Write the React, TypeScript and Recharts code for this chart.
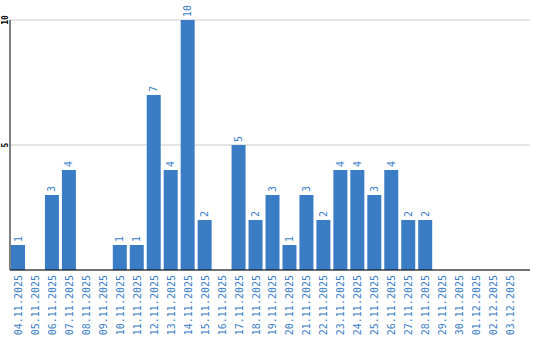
import { BarChart, Bar, XAxis, YAxis, CartesianGrid, LabelList } from 'recharts';

const days = [
  '04.11.2025', '05.11.2025', '06.11.2025', '07.11.2025', '08.11.2025', '09.11.2025',
  '10.11.2025', '11.11.2025', '12.11.2025', '13.11.2025', '14.11.2025', '15.11.2025',
  '16.11.2025', '17.11.2025', '18.11.2025', '19.11.2025', '20.11.2025', '21.11.2025',
  '22.11.2025', '23.11.2025', '24.11.2025', '25.11.2025', '26.11.2025', '27.11.2025',
  '28.11.2025', '29.11.2025', '30.11.2025', '01.12.2025', '02.12.2025', '03.12.2025',
];
const counts = [1, 0, 3, 4, 0, 0, 1, 1, 7, 4, 10, 2, 0, 5, 2, 3, 1, 3, 2, 4, 4, 3, 4, 2, 2, 0, 0, 0, 0, 0];
const yTicks = [0, 5, 10];

const data = days.map((day, i) => ({ day, count: counts[i] }));

const BLUE = '#3b7dc5';
const MONO = '"DejaVu Sans Mono", monospace';

const DayTick = (props: any) => {
  const { x, y, payload } = props;
  return (
    <text
      x={x}
      y={y}
      transform={`rotate(-90, ${x}, ${y})`}
      textAnchor="end"
      dominantBaseline="central"
      fill={BLUE}
      fontSize={10}
      fontFamily={MONO}
    >
      {payload.value}
    </text>
  );
};

const CountTick = (props: any) => {
  const { x, y, payload } = props;
  if (!payload.value) return null;
  return (
    <text
      x={x}
      y={y}
      transform={`rotate(-90, ${x}, ${y})`}
      textAnchor="middle"
      dominantBaseline="central"
      fill="#000"
      fontSize={8}
      fontWeight="bold"
      fontFamily={MONO}
    >
      {payload.value}
    </text>
  );
};

const ValueLabel = (props: any) => {
  const { x, y, width, value } = props;
  if (!value) return null;
  const cx = x + width / 2;
  const cy = y - 3;
  return (
    <text
      x={cx}
      y={cy}
      transform={`rotate(-90, ${cx}, ${cy})`}
      textAnchor="start"
      dominantBaseline="central"
      fill={BLUE}
      fontSize={10}
      fontFamily={MONO}
    >
      {value}
    </text>
  );
};

export default function App() {
  return (
    <div style={{ position: 'absolute', left: 0, top: 0, background: '#fff' }}>
      <BarChart
        width={540}
        height={340}
        data={data}
        margin={{ top: 20, right: 10, bottom: 0, left: 0 }}
        barSize={14}
      >
        <CartesianGrid vertical={false} stroke="#cccccc" />
        <XAxis
          dataKey="day"
          interval={0}
          height={70}
          padding={{ left: 0, right: 11 }}
          tickLine={false}
          tickSize={0}
          tickMargin={5}
          axisLine={{ stroke: '#000' }}
          tick={<DayTick />}
        />
        <YAxis
          width={10}
          domain={[0, 10]}
          ticks={yTicks}
          tickLine={false}
          tickSize={0}
          tickMargin={5}
          axisLine={{ stroke: '#000' }}
          tick={<CountTick />}
        />
        <Bar dataKey="count" fill={BLUE} isAnimationActive={false}>
          <LabelList dataKey="count" content={<ValueLabel />} />
        </Bar>
      </BarChart>
    </div>
  );
}
